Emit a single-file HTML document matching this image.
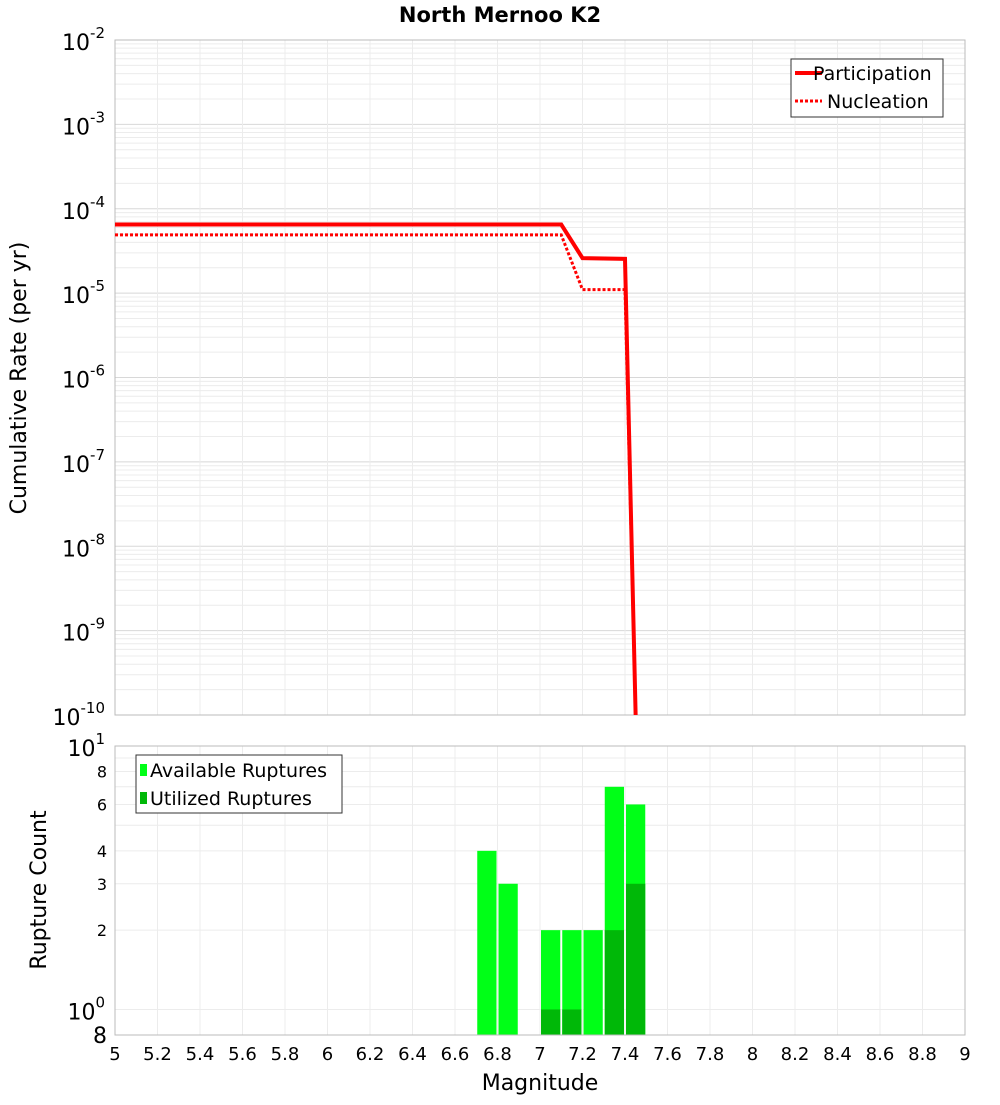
<!DOCTYPE html>
<html><head><meta charset="utf-8"><style>
body{margin:0;background:#fff;font-family:"Liberation Sans","DejaVu Sans",sans-serif}
</style></head><body>
<svg id="c" width="1000" height="1100" xmlns="http://www.w3.org/2000/svg" font-family="DejaVu Sans, Liberation Sans, sans-serif"></svg>
<script>
const xTicks=[5,5.2,5.4,5.6,5.8,6,6.2,6.4,6.6,6.8,7,7.2,7.4,7.6,7.8,8,8.2,8.4,8.6,8.8,9];
const partMag=[5,7.1,7.2,7.4,7.45];
const partRate=[6.5e-5,6.5e-5,2.6e-5,2.55e-5,1e-10];
const nuclMag=[5,7.1,7.2,7.4,7.45];
const nuclRate=[4.9e-5,4.9e-5,1.1e-5,1.1e-5,1e-10];
const binMag=[6.75,6.85,7.05,7.15,7.25,7.35,7.45];
const availCount=[4,3,2,2,2,7,6];
const utilCount=[0,0,1,1,0,2,3];
const topExp=[-2,-3,-4,-5,-6,-7,-8,-9,-10];
const botTicks=[8,6,4,3,2];
const NS="http://www.w3.org/2000/svg";
const svg=document.getElementById('c');
function mk(t,a,p){const e=document.createElementNS(NS,t);for(const k in a)e.setAttribute(k,a[k]);(p||svg).appendChild(e);return e;}
const L=115,R=965,T1=40,B1=715,T2=746,B2=1035;
const X=m=>L+(m-5)/4*(R-L);
const Y1=v=>T1+(-2-Math.log10(v))/8*(B1-T1);
const Y2=v=>T2+(1-Math.log10(v))/(1-Math.log10(0.8))*(B2-T2);
// top plot
let g=mk('g',{});
mk('rect',{x:L,y:T1,width:R-L,height:B1-T1,fill:'#fff'},g);
for(let d=-10;d<-2;d++)for(let k=1;k<10;k++){const y=Y1(k*Math.pow(10,d));mk('line',{x1:L,x2:R,y1:y,y2:y,stroke:k==1?'#d8d8d8':'#ececec','stroke-width':1},g);}
xTicks.forEach(m=>mk('line',{x1:X(m),x2:X(m),y1:T1,y2:B1,stroke:'#ececec'},g));
mk('rect',{x:L,y:T1,width:R-L,height:B1-T1,fill:'none',stroke:'#bbb'},g);
topExp.forEach(e=>{const t=mk('text',{x:105,y:Y1(Math.pow(10,e))+10,'text-anchor':'end','font-size':22},g);t.textContent='10';const s=mk('tspan',{dy:-12,'font-size':15},t);s.textContent=String(e);});
function line(ms,vs,dash,name){const p=mk('polyline',{points:ms.map((m,i)=>X(m)+','+Y1(vs[i])).join(' '),fill:'none',stroke:'#f00','stroke-width':dash?3:4,'stroke-dasharray':dash?'3,2':'none'},g);}
line(nuclMag,nuclRate,true,'nucleation-line');
line(partMag,partRate,false,'participation-line');
let lg=mk('g',{});
mk('rect',{x:791,y:59,width:152,height:58,fill:'#fff',stroke:'#333'},lg);
mk('line',{x1:795,x2:822,y1:73,y2:73,stroke:'#f00','stroke-width':4},lg);
mk('line',{x1:795,x2:822,y1:101,y2:101,stroke:'#f00','stroke-width':3,'stroke-dasharray':'3,2'},lg);
let t=mk('text',{x:813,y:80,'font-size':19},lg);t.textContent='Participation';
t=mk('text',{x:827,y:108,'font-size':19},lg);t.textContent='Nucleation';
t=mk('text',{x:500,y:22,'text-anchor':'middle','font-size':21,'font-weight':'bold'});t.textContent='North Mernoo K2';
t=mk('text',{x:0,y:0,'text-anchor':'middle','font-size':22,transform:'translate(26,378) rotate(-90)'});t.textContent='Cumulative Rate (per yr)';
// bottom plot
let g2=mk('g',{});
mk('rect',{x:L,y:T2,width:R-L,height:B2-T2,fill:'#fff'},g2);
[1,2,3,4,5,6,7,8,9].forEach(v=>mk('line',{x1:L,x2:R,y1:Y2(v),y2:Y2(v),stroke:'#ececec'},g2));
xTicks.forEach(m=>mk('line',{x1:X(m),x2:X(m),y1:T2,y2:B2,stroke:'#ececec'},g2));
binMag.forEach((m,i)=>{
 let r=mk('rect',{x:X(m-0.05)+1,y:Y2(availCount[i]),width:X(0.1+5)-L-2,height:B2-Y2(availCount[i]),fill:'#00ff17'},g2);
 if(utilCount[i]>0){r=mk('rect',{x:X(m-0.05)+1,y:Y2(utilCount[i]),width:X(0.1+5)-L-2,height:B2-Y2(utilCount[i]),fill:'#00b808'},g2);}
});
mk('rect',{x:L,y:T2,width:R-L,height:B2-T2,fill:'none',stroke:'#bbb'},g2);
t=mk('text',{x:105,y:Y2(10)+10,'text-anchor':'end','font-size':22},g2);t.textContent='10';let s=mk('tspan',{dy:-12,'font-size':15},t);s.textContent='1';
t=mk('text',{x:105,y:Y2(1)+10,'text-anchor':'end','font-size':22},g2);t.textContent='10';s=mk('tspan',{dy:-12,'font-size':15},t);s.textContent='0';
botTicks.forEach(v=>{const tt=mk('text',{x:107,y:Y2(v)+6,'text-anchor':'end','font-size':16},g2);tt.textContent=v;});
t=mk('text',{x:107,y:B2+8,'text-anchor':'end','font-size':22},g2);t.textContent='8';
let lg2=mk('g',{});
mk('rect',{x:136,y:755,width:206,height:58,fill:'#fff',stroke:'#333'},lg2);
mk('rect',{x:140,y:764,width:7,height:12,fill:'#00ff17'},lg2);
mk('rect',{x:140,y:792,width:7,height:12,fill:'#00b808'},lg2);
t=mk('text',{x:150,y:777,'font-size':19},lg2);t.textContent='Available Ruptures';
t=mk('text',{x:150,y:805,'font-size':19},lg2);t.textContent='Utilized Ruptures';
t=mk('text',{x:0,y:0,'text-anchor':'middle','font-size':22,transform:'translate(46,890) rotate(-90)'});t.textContent='Rupture Count';
xTicks.forEach(m=>{const tt=mk('text',{x:X(m),y:1060,'text-anchor':'middle','font-size':18});tt.textContent=String(m);});
t=mk('text',{x:540,y:1090,'text-anchor':'middle','font-size':22});t.textContent='Magnitude';
</script>
</body></html>
